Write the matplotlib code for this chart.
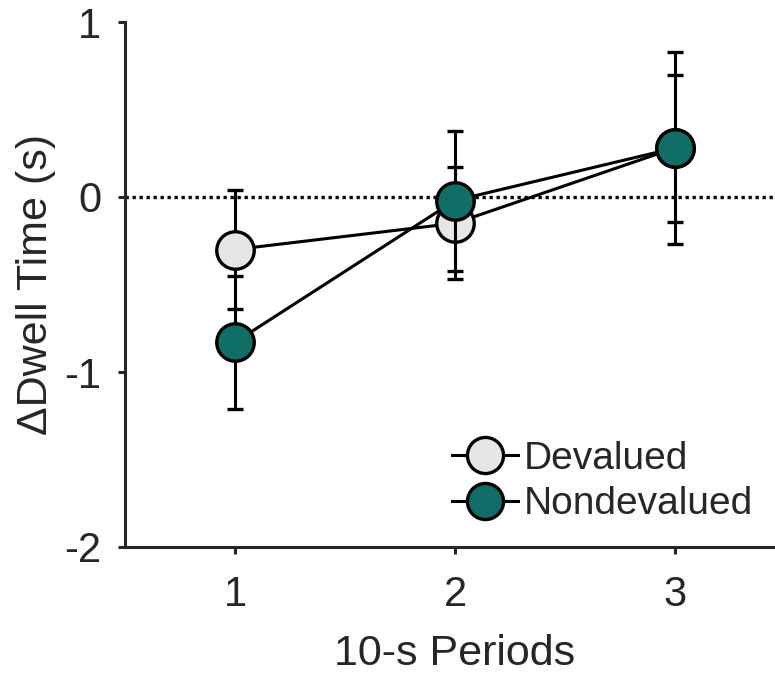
import matplotlib
matplotlib.use("Agg")
import matplotlib.pyplot as plt
from matplotlib.lines import Line2D

# datos
periods = [1, 2, 3]
period_labels = ["1", "2", "3"]
devalued = [-0.30, -0.15, 0.28]
devalued_se = [0.34, 0.32, 0.42]
nondevalued = [-0.83, -0.02, 0.28]
nondevalued_se = [0.38, 0.40, 0.55]

plt.rcParams["font.family"] = ["Liberation Sans", "DejaVu Sans"]
text_color = "#262626"

fig = plt.figure(figsize=(7.75, 6.75), dpi=100)
ax = fig.add_axes([125 / 775, 128 / 675, 660 / 775, 525 / 675])

ax.axhline(0, color="black", linestyle=(0, (1, 1.1)), linewidth=2.4, zorder=1)

style = dict(color="black", linewidth=2.2, elinewidth=2.2, capsize=6, capthick=2.2,
             marker="o", markersize=27, markeredgecolor="black", markeredgewidth=2.4)
ax.errorbar(periods, devalued, yerr=devalued_se, markerfacecolor="#e6e6e6",
            zorder=3, **style)
ax.errorbar(periods, nondevalued, yerr=nondevalued_se, markerfacecolor="#116e67",
            zorder=4, **style)

ax.set_xlim(0.5, 3.5)
ax.set_ylim(-2, 1)
ax.set_xticks(periods)
ax.set_xticklabels(period_labels)
ax.set_yticks([-2, -1, 0, 1])
ax.set_yticklabels(["-2", "-1", "0", "1"])

for side in ["top", "right"]:
    ax.spines[side].set_visible(False)
for side in ["left", "bottom"]:
    ax.spines[side].set_linewidth(2.2)
    ax.spines[side].set_color(text_color)

ax.tick_params(axis="both", direction="out", length=5, width=2.2, labelsize=30,
               colors=text_color)
ax.tick_params(axis="x", pad=15)
ax.tick_params(axis="y", pad=12)

ax.set_xlabel("10-s Periods", fontsize=31, labelpad=14, color=text_color)
ax.set_ylabel("\u0394Dwell Time (s)", fontsize=31, labelpad=6, color=text_color)

handles = [
    Line2D([], [], color="black", linewidth=2.2, marker="o", markersize=26,
           markerfacecolor="#e6e6e6", markeredgecolor="black", markeredgewidth=2.4),
    Line2D([], [], color="black", linewidth=2.2, marker="o", markersize=26,
           markerfacecolor="#116e67", markeredgecolor="black", markeredgewidth=2.4),
]
ax.legend(handles, ["Devalued", "Nondevalued"], loc="lower right",
          bbox_to_anchor=(1.005, -0.02), frameon=False, fontsize=28,
          handlelength=1.7, handletextpad=0.15, labelspacing=0.25,
          labelcolor=text_color)

fig.savefig("out.png", dpi=100)
